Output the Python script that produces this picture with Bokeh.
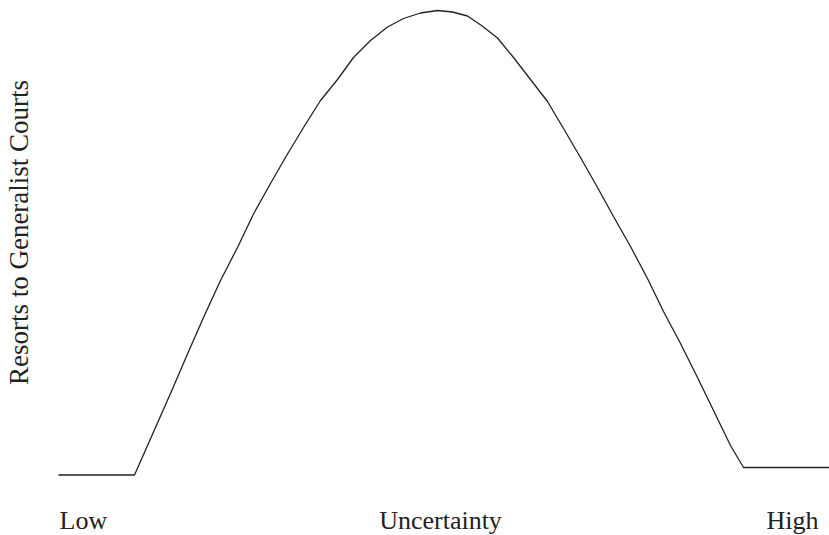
from bokeh.plotting import figure
from bokeh.models import Range1d
from bokeh.core.properties import value
from bokeh.embed import file_html
from bokeh.resources import INLINE
import math

# Curve: x = uncertainty, y = resorts to generalist courts
curve_x = [0, 76, 112, 129, 145, 162, 179, 195, 212, 229, 245, 262, 279, 295, 312,
           329, 345, 362, 379, 394, 409, 423, 439, 455, 472, 489, 505, 522, 539,
           555, 572, 589, 605, 622, 639, 672, 685, 771]
curve_y = [0, 0, 81.5, 121, 157.5, 194.5, 227.5, 261, 291.5, 321, 347.5, 374.5,
           395.5, 417.5, 434.5, 448, 456.5, 462, 464.5, 463, 459, 449.5, 437,
           417.5, 395.5, 373.5, 346.5, 317.5, 287.5, 258.5, 228.5, 196.5, 163.5,
           131.5, 97.5, 29.5, 7.5, 7.5]

x_tick_labels = ["Low", "Uncertainty", "High"]
x_tick_pos = [1, 382, 760]
x_tick_align = ["left", "center", "right"]
y_title = "Resorts to Generalist Courts"

p = figure(width=829, height=535, output_backend="svg", toolbar_location=None,
           x_range=Range1d(-58, 771), y_range=Range1d(-60.5, 474.5),
           min_border=0, outline_line_color=None)
p.axis.visible = False
p.grid.visible = False

p.line(curve_x, curve_y, line_color="#222222", line_width=1.3)

for t, xx, al in zip(x_tick_labels, x_tick_pos, x_tick_align):
    p.text(x=[xx], y=[-45], text=[t], text_align=al, text_baseline="alphabetic",
           text_font=value("Liberation Serif"), text_font_size="26px", text_color="#222222")

p.text(x=[-40], y=[242.5], text=[y_title], angle=math.pi / 2, text_align="center",
       text_baseline="middle", text_font=value("Liberation Serif"),
       text_font_size="27px", text_color="#222222")

open("out.html", "w").write(file_html(p, INLINE))
